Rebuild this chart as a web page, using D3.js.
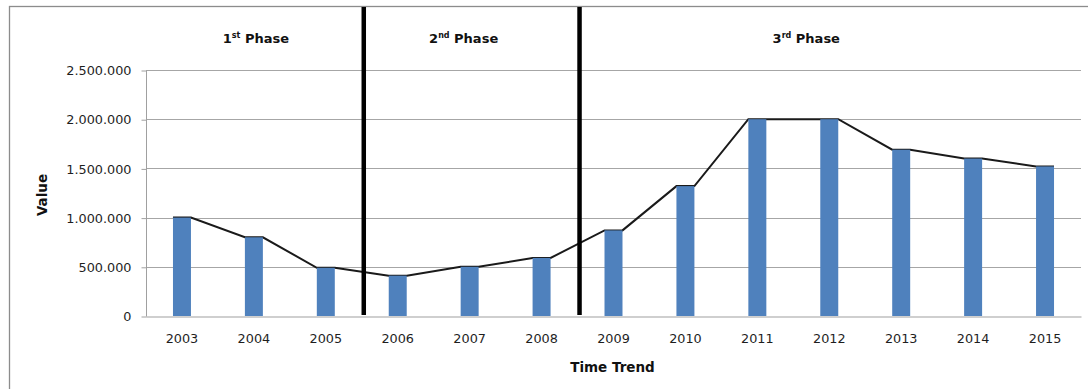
<!DOCTYPE html>
<html>
<head>
<meta charset="utf-8">
<script src="https://cdn.jsdelivr.net/npm/d3@7"></script>
<style>
  html, body { margin: 0; padding: 0; background: #fff; }
  svg { display: block; }
  text { font-family: "DejaVu Sans", Verdana, sans-serif; }
</style>
</head>
<body>
<svg id="chart" width="1088" height="389"></svg>
<script>
// Yearly values, grouped by development phase
const years = ["2003","2004","2005","2006","2007","2008","2009","2010","2011","2012","2013","2014","2015"];
const values = [1000000, 800000, 490000, 410000, 500000, 590000, 870000, 1320000, 2000000, 2000000, 1690000, 1600000, 1520000];
const yTicks = [0, 500000, 1000000, 1500000, 2000000, 2500000];
// Phase dividers sit between these year pairs
const phaseBreaks = [["2005","2006"], ["2008","2009"]];
const phases = [
  { num: "1", sup: "st", anchorYear: "2004", shift: 2 },
  { num: "2", sup: "nd", anchorYear: "2007", shift: -6 },
  { num: "3", sup: "rd", anchorYear: "2012", shift: -23 }
];

const svg = d3.select("#chart");
const W = 1088, H = 389;
const plot = { left: 146, right: 1081, top: 70, bottom: 316 };

// Outer chart frame (left and top edges visible, the rest runs off-canvas)
svg.append("rect")
  .attr("x", 9.5).attr("y", 6.5)
  .attr("width", W + 10).attr("height", H + 10)
  .attr("fill", "#fff").attr("stroke", "#8c8c8c").attr("stroke-width", 1.3);

const x = d3.scaleBand().domain(years).range([plot.left, plot.right]).paddingInner(0.75).paddingOuter(0.375);
const y = d3.scaleLinear().domain([0, 2500000]).range([plot.bottom, plot.top]);

const fmt = v => d3.format(",")(v).replace(/,/g, ".");

// Horizontal gridlines
svg.append("g")
  .selectAll("line")
  .data(yTicks.filter(t => t > 0))
  .join("line")
  .attr("x1", plot.left).attr("x2", plot.right)
  .attr("y1", d => Math.round(y(d)) + 0.5).attr("y2", d => Math.round(y(d)) + 0.5)
  .attr("stroke", "#a6a6a6").attr("stroke-width", 1.2);

// Y axis
const yAxis = svg.append("g")
  .attr("transform", `translate(${plot.left + 0.5},0.5)`)
  .call(d3.axisLeft(y).tickValues(yTicks).tickFormat(fmt).tickSize(5).tickPadding(10));
yAxis.select(".domain").attr("stroke", "#a0a0a0").attr("d", `M0,${plot.top}V${plot.bottom}`);
yAxis.selectAll(".tick line").attr("stroke", "#a0a0a0");
yAxis.selectAll(".tick text")
  .attr("font-size", 12.8).attr("fill", "#1e1e1e")
  .style("font-family", "'DejaVu Sans', Verdana, sans-serif");

// X axis
const xAxis = svg.append("g")
  .attr("transform", `translate(0,${plot.bottom + 0.5})`)
  .call(d3.axisBottom(x).tickSize(0).tickPadding(17));
xAxis.select(".domain").attr("stroke", "#a0a0a0").attr("stroke-width", 1.2);
xAxis.selectAll(".tick text")
  .attr("font-size", 12.8).attr("fill", "#1e1e1e")
  .style("font-family", "'DejaVu Sans', Verdana, sans-serif");

// Trend line joining the top corners of neighbouring bars (drawn beneath the bars)
const trendPts = [];
years.forEach((yr, i) => {
  trendPts.push([x(yr), y(values[i])]);
  trendPts.push([x(yr) + x.bandwidth(), y(values[i])]);
});
svg.append("path")
  .attr("d", d3.line()(trendPts))
  .attr("fill", "none").attr("stroke", "#1a1a1a").attr("stroke-width", 2);

// Bars
svg.append("g")
  .selectAll("rect")
  .data(years)
  .join("rect")
  .attr("x", d => x(d))
  .attr("width", x.bandwidth())
  .attr("y", (d, i) => y(values[i]))
  .attr("height", (d, i) => y(0) - y(values[i]))
  .attr("fill", "#4f81bd");

// Phase dividers, halfway between neighbouring bars
const dividerX = d => (x(d[0]) + x(d[1])) / 2 + x.bandwidth() / 2 + 2;
svg.append("g")
  .selectAll("line")
  .data(phaseBreaks)
  .join("line")
  .attr("x1", dividerX)
  .attr("x2", dividerX)
  .attr("y1", 7).attr("y2", plot.bottom - 1)
  .attr("stroke", "#000").attr("stroke-width", 4.5);

// Phase titles
const pt = svg.append("g")
  .selectAll("text")
  .data(phases)
  .join("text")
  .attr("x", d => x(d.anchorYear) + x.bandwidth() / 2 + d.shift)
  .attr("y", 43)
  .attr("text-anchor", "middle")
  .attr("font-size", 13).attr("font-weight", "bold").attr("fill", "#111");
pt.append("tspan").text(d => d.num);
pt.append("tspan").text(d => d.sup).attr("font-size", 8).attr("dy", -5);
pt.append("tspan").text(" Phase").attr("dy", 5);

// Axis titles
svg.append("text")
  .attr("transform", `translate(47,${(plot.top + plot.bottom) / 2 + 2}) rotate(-90)`)
  .attr("text-anchor", "middle")
  .attr("font-size", 13.5).attr("font-weight", "bold").attr("fill", "#111")
  .text("Value");

svg.append("text")
  .attr("x", (plot.left + plot.right) / 2 - 1)
  .attr("y", 372)
  .attr("text-anchor", "middle")
  .attr("font-size", 13.5).attr("font-weight", "bold").attr("fill", "#111")
  .text("Time Trend");
</script>
</body>
</html>
